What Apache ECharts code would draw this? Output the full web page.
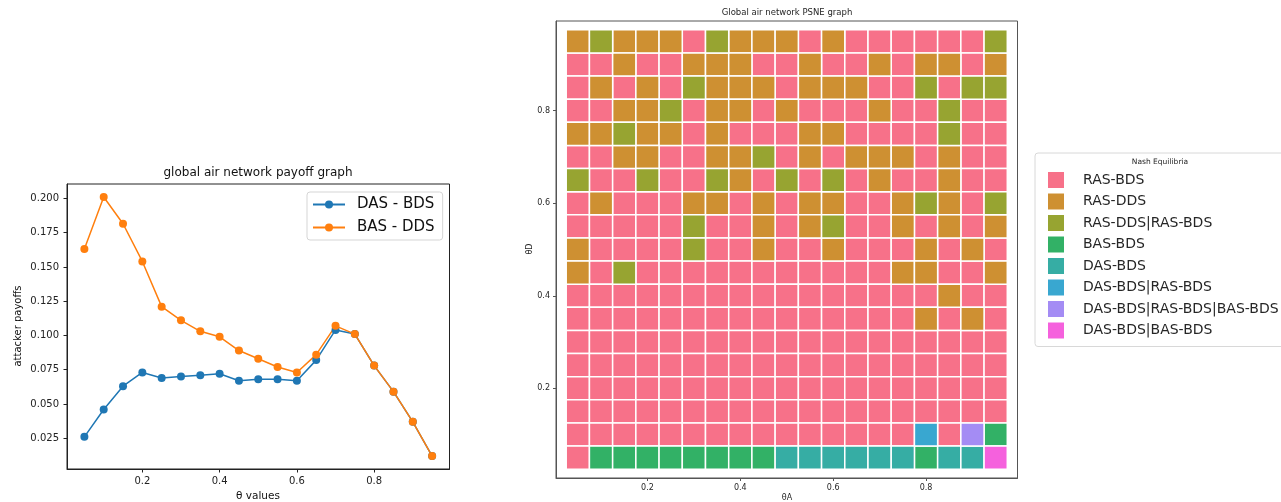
<!DOCTYPE html>
<html>
<head>
<meta charset="utf-8">
<script src="https://cdn.jsdelivr.net/npm/echarts@6/dist/echarts.min.js"></script>
<style>
html, body { margin: 0; padding: 0; background: #fff; }
#chart { width: 1281px; height: 502px; }
</style>
</head>
<body>
<div id="chart"></div>
<script>
// payoff curves (left)
const thetaValues = [0.05, 0.10, 0.15, 0.20, 0.25, 0.30, 0.35, 0.40, 0.45, 0.50,
    0.55, 0.60, 0.65, 0.70, 0.75, 0.80, 0.85, 0.90, 0.95]
const dasBds = [0.026, 0.046, 0.063, 0.073, 0.069, 0.070, 0.071, 0.072, 0.067, 0.068,
    0.068, 0.067, 0.082, 0.104, 0.101, 0.078, 0.059, 0.037, 0.012]
const basDds = [0.163, 0.201, 0.1815, 0.154, 0.121, 0.111, 0.103, 0.099, 0.089, 0.083,
    0.077, 0.073, 0.086, 0.107, 0.101, 0.078, 0.059, 0.037, 0.012]
const payoffTicks = [0.025, 0.050, 0.075, 0.100, 0.125, 0.150, 0.175, 0.200]
const thetaTicks = [0.2, 0.4, 0.6, 0.8]

// PSNE grid (right)
const equilibria = ['RAS-BDS', 'RAS-DDS', 'RAS-DDS|RAS-BDS', 'BAS-BDS', 'DAS-BDS',
    'DAS-BDS|RAS-BDS', 'DAS-BDS|RAS-BDS|BAS-BDS', 'DAS-BDS|BAS-BDS']
const eqCodes = ['P', 'O', 'G', 'B', 'T', 'C', 'V', 'M']
const eqColors = ['#f77189', '#ce9032', '#97a431', '#32b166', '#36ada4', '#39a7d0', '#a48cf4', '#f561dd']
// one string per θD row, from 0.95 (top) down to 0.05; one letter per θA column
const psneRows = [
    'OGOOOPGOOOPOPPPPPPG',
    'PPOPPOOOPPOPPOPOOPO',
    'POPOPGOOOPOOOPPGPGG',
    'PPOOGPOOPOPPPOPPGPP',
    'OOGOOPOPPPOOPPPPGPP',
    'PPOOPPOOGPOPOOOPOPP',
    'GPPGPPGOPGPGPOPPOPP',
    'POPPPOOPOPOOPPOGOPG',
    'PPPPPGPPOPOGPPOPOPO',
    'OPPPPGPPOPPOPPPOPOP',
    'OPGPPPPPPPPPPPOOPPO',
    'PPPPPPPPPPPPPPPPOPP',
    'PPPPPPPPPPPPPPPOPOP',
    'PPPPPPPPPPPPPPPPPPP',
    'PPPPPPPPPPPPPPPPPPP',
    'PPPPPPPPPPPPPPPPPPP',
    'PPPPPPPPPPPPPPPPPPP',
    'PPPPPPPPPPPPPPPCPVB',
    'PBBBBBBBBTTTTTTBTTM'
]
const thetaDRows = [0.95, 0.90, 0.85, 0.80, 0.75, 0.70, 0.65, 0.60, 0.55, 0.50,
    0.45, 0.40, 0.35, 0.30, 0.25, 0.20, 0.15, 0.10, 0.05]
const gridTicks = [0.2, 0.4, 0.6, 0.8]

const chart = echarts.init(document.getElementById('chart'))

function cellsFor(code) {
    const out = []
    psneRows.forEach((row, r) => {
        for (let c = 0; c < row.length; c++) {
            if (row[c] === code) out.push([thetaValues[c], thetaDRows[r]])
        }
    })
    return out
}

function renderCell(params, api) {
    const p = api.coord([api.value(0), api.value(1)])
    const s = api.size([0.05, 0.05])
    return {
        type: 'rect',
        shape: { x: p[0] - s[0] / 2, y: p[1] - s[1] / 2, width: s[0], height: s[1] },
        style: { fill: api.visual('color'), stroke: '#fff', lineWidth: 1.5 }
    }
}

const axisCommon = {
    type: 'value',
    axisLine: { show: true, onZero: false, lineStyle: { color: '#222', width: 1 } },
    axisTick: { show: true, length: 3.5, lineStyle: { color: '#222' } },
    splitLine: { show: false }
}

const cellSeries = equilibria.map((name, i) => ({
    name: name,
    type: 'custom',
    xAxisIndex: 1,
    yAxisIndex: 1,
    renderItem: renderCell,
    itemStyle: { color: eqColors[i] },
    data: cellsFor(eqCodes[i])
}))

chart.setOption({
    animation: false,
    textStyle: { fontFamily: 'DejaVu Sans' },
    grid: [
        { left: 67, top: 184, width: 382.5, height: 285, show: true, borderColor: '#222', borderWidth: 1 },
        { left: 556, top: 21, width: 461.5, height: 457, show: true, borderColor: '#555', borderWidth: 1 }
    ],
    xAxis: [
        Object.assign({}, axisCommon, {
            gridIndex: 0, min: 0.005, max: 0.995,
            axisTick: { show: true, length: 3.5, lineStyle: { color: '#222' }, customValues: thetaTicks },
            axisLabel: { customValues: thetaTicks, fontSize: 10, color: '#222', margin: 7, formatter: v => v.toFixed(1) }
        }),
        Object.assign({}, axisCommon, {
            gridIndex: 1, min: 0.003, max: 0.997,
            axisLine: { show: true, onZero: false, lineStyle: { color: '#555' } },
            axisTick: { show: true, length: 3, lineStyle: { color: '#555' }, customValues: gridTicks },
            axisLabel: { customValues: gridTicks, fontSize: 8, color: '#262626', margin: 6, formatter: v => v.toFixed(1) }
        })
    ],
    yAxis: [
        Object.assign({}, axisCommon, {
            gridIndex: 0, min: 0.00255, max: 0.2105,
            axisTick: { show: true, length: 3.5, lineStyle: { color: '#222' }, customValues: payoffTicks },
            axisLabel: { customValues: payoffTicks, fontSize: 10, color: '#222', margin: 8, formatter: v => v.toFixed(3) }
        }),
        Object.assign({}, axisCommon, {
            gridIndex: 1, min: 0.006, max: 0.994,
            axisLine: { show: true, onZero: false, lineStyle: { color: '#555' } },
            axisTick: { show: true, length: 3, lineStyle: { color: '#555' }, customValues: gridTicks },
            axisLabel: { customValues: gridTicks, fontSize: 8, color: '#262626', margin: 6, formatter: v => v.toFixed(1) }
        })
    ],
    legend: [
        {
            data: ['DAS - BDS', 'BAS - DDS'],
            orient: 'vertical',
            left: 307, top: 192,
            padding: [5, 8, 5, 5],
            itemWidth: 32, itemHeight: 10, itemGap: 8,
            borderColor: '#d5d5d5', borderWidth: 1, borderRadius: 3,
            textStyle: { fontSize: 15, color: '#111', padding: [0, 0, 0, 7] }
        },
        {
            data: equilibria,
            orient: 'vertical',
            left: 1035, top: 153,
            padding: [19, 40, 8, 13],
            icon: 'rect',
            itemWidth: 16, itemHeight: 16, itemGap: 5.5,
            borderColor: '#d8d8d8', borderWidth: 1, borderRadius: 3,
            textStyle: { fontSize: 14, color: '#262626', padding: [0, 0, 0, 14] }
        }
    ],
    graphic: [
        { type: 'text', x: 258, y: 173, style: { text: 'global air network payoff graph', fontSize: 12, fill: '#111', align: 'center', verticalAlign: 'middle', fontFamily: 'DejaVu Sans' } },
        { type: 'text', x: 18, y: 326, rotation: Math.PI / 2, style: { text: 'attacker payoffs', fontSize: 10, fill: '#111', align: 'center', verticalAlign: 'middle', fontFamily: 'DejaVu Sans' } },
        { type: 'text', x: 258, y: 496, style: { text: 'θ values', fontSize: 10.5, fill: '#111', align: 'center', verticalAlign: 'middle', fontFamily: 'DejaVu Sans' } },
        { type: 'text', x: 787, y: 12.5, style: { text: 'Global air network PSNE graph', fontSize: 8.5, fill: '#262626', align: 'center', verticalAlign: 'middle', fontFamily: 'DejaVu Sans' } },
        { type: 'text', x: 530, y: 249, rotation: Math.PI / 2, style: { text: 'θD', fontSize: 8, fill: '#262626', align: 'center', verticalAlign: 'middle', fontFamily: 'DejaVu Sans' } },
        { type: 'text', x: 787, y: 498, style: { text: 'θA', fontSize: 8, fill: '#262626', align: 'center', verticalAlign: 'middle', fontFamily: 'DejaVu Sans' } },
        { type: 'text', x: 1160, y: 162, style: { text: 'Nash Equilibria', fontSize: 7.5, fill: '#262626', align: 'center', verticalAlign: 'middle', fontFamily: 'DejaVu Sans' } }
    ],
    series: [
        {
            name: 'DAS - BDS',
            type: 'line',
            xAxisIndex: 0, yAxisIndex: 0,
            symbol: 'circle', symbolSize: 8,
            lineStyle: { width: 1.5, color: '#1f77b4' },
            itemStyle: { color: '#1f77b4' },
            data: thetaValues.map((t, i) => [t, dasBds[i]])
        },
        {
            name: 'BAS - DDS',
            type: 'line',
            xAxisIndex: 0, yAxisIndex: 0,
            symbol: 'circle', symbolSize: 8,
            lineStyle: { width: 1.5, color: '#ff7f0e' },
            itemStyle: { color: '#ff7f0e' },
            data: thetaValues.map((t, i) => [t, basDds[i]])
        }
    ].concat(cellSeries)
})
</script>
</body>
</html>
